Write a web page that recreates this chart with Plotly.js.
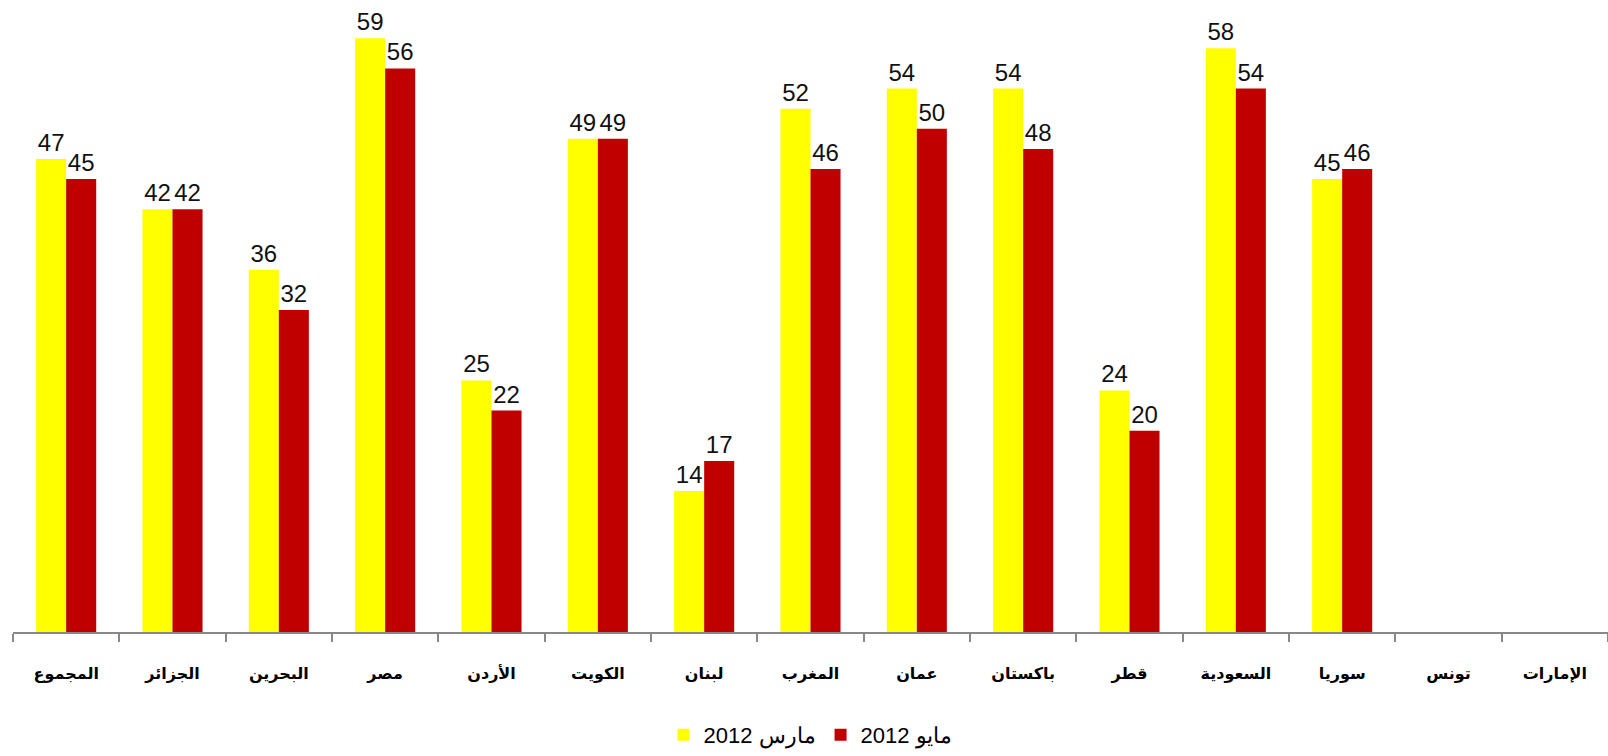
<!DOCTYPE html>
<html>
<head>
<meta charset="utf-8">
<script src="https://cdn.plot.ly/plotly-3.0.1.min.js"></script>
<style>html,body{margin:0;padding:0;background:#fff;}#chart{width:1608px;height:756px;}</style>
</head>
<body>
<div id="chart"></div>
<script>
const categories = ["المجموع","الجزائر","البحرين","مصر","الأردن","الكويت","لبنان","المغرب","عمان","باكستان","قطر","السعودية","سوريا","تونس","الإمارات"];
const march2012 = [47,42,36,59,25,49,14,52,54,54,24,58,45,null,null];
const may2012 = [45,42,32,56,22,49,17,46,50,48,20,54,46,null,null];
const seriesNames = ["2012 مارس","2012 مايو"];

const txt = arr => arr.map(v => v === null ? "" : String(v));

const common = {
  type: "bar",
  x: categories,
  textposition: "outside",
  cliponaxis: false,
  constraintext: "none",
  textfont: {family: "Liberation Sans, Arial, sans-serif", size: 24, color: "#111"},
  hoverinfo: "none"
};

const traces = [
  Object.assign({}, common, {y: march2012, text: txt(march2012), name: seriesNames[0], marker: {color: "#FFFF00"}}),
  Object.assign({}, common, {y: may2012, text: txt(may2012), name: seriesNames[1], marker: {color: "#C00000"}})
];

const layout = {
  width: 1608, height: 756,
  margin: {l: 13, r: 0, t: 10, b: 117},
  paper_bgcolor: "#fff", plot_bgcolor: "#fff",
  barmode: "group",
  bargap: 0.435,
  bargroupgap: 0,
  showlegend: true,
  legend: {orientation: "h", x: 0.5, xanchor: "center", y: -0.166, yanchor: "middle",
           font: {family: "Liberation Sans, Arial, sans-serif", size: 22, color: "#000"},
           itemwidth: 30, traceorder: "normal"},
  xaxis: {
    type: "category", automargin: false,
    showline: true, linecolor: "#888", linewidth: 2,
    ticks: "outside", tickson: "boundaries", ticklen: 8, tickwidth: 2, tickcolor: "#888",
    ticklabelstandoff: 26,
    tickfont: {family: "DejaVu Sans", size: 16, color: "#000", weight: "bold"},
    showgrid: false, zeroline: false, fixedrange: true
  },
  yaxis: {
    range: [0, 61.8], visible: false, automargin: false, showgrid: false, zeroline: false, fixedrange: true
  }
};

Plotly.newPlot("chart", traces, layout, {displayModeBar: false, staticPlot: true});
</script>
</body>
</html>
